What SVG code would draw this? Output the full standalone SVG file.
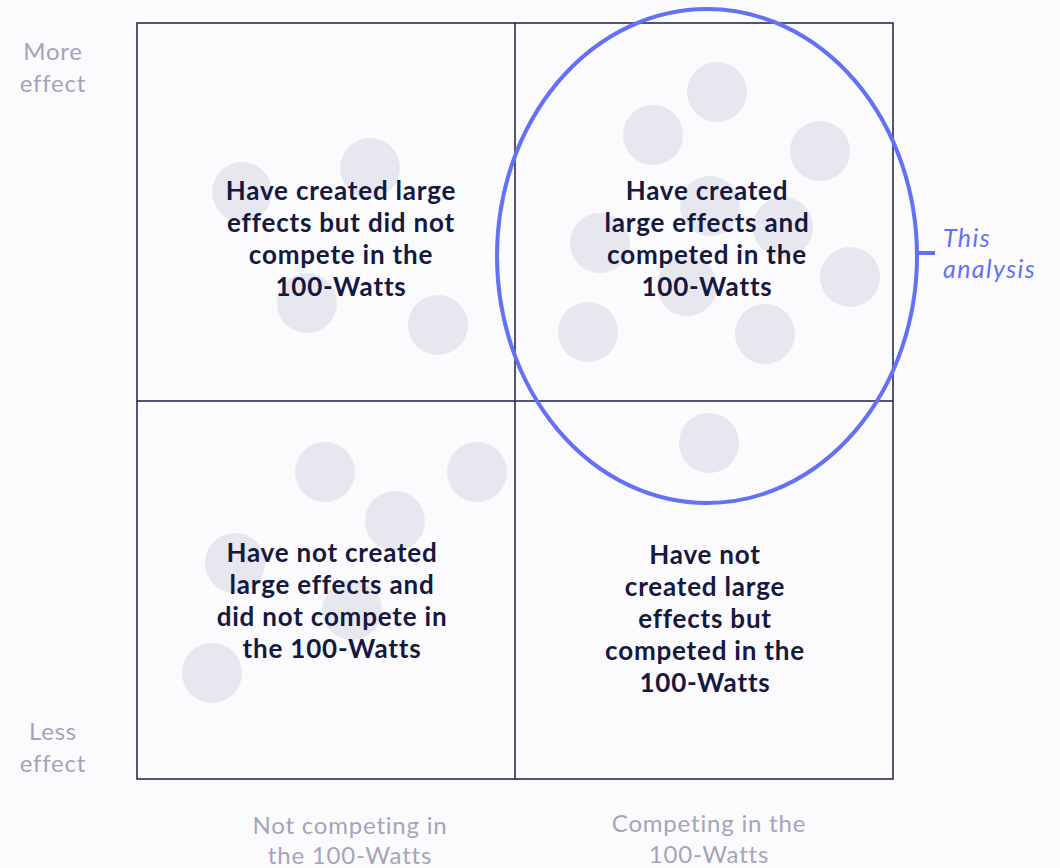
<svg xmlns="http://www.w3.org/2000/svg" width="1060" height="868" viewBox="0 0 1060 868">
  <style>
    .dot { fill: #e7e8ef; }
    .grid { fill: none; stroke: #1b1e48; stroke-width: 1.5; }
    .label { font-family: Lato, "Liberation Sans", sans-serif; font-weight: 700; font-size: 26px; letter-spacing: 0.8px; fill: #15183f; text-anchor: middle; }
    .axis { font-family: Lato, "Liberation Sans", sans-serif; font-weight: 400; font-size: 24px; letter-spacing: 0.8px; fill: #a4a5ba; text-anchor: middle; }
    .note { font-family: Lato, "Liberation Sans", sans-serif; font-style: italic; font-weight: 400; font-size: 25px; letter-spacing: 1.4px; fill: #6470f5; }
    .focus { fill: none; stroke: #6470f5; stroke-width: 4; }
  </style>
  <rect width="1060" height="868" fill="#fbfbfd"/>

  <!-- background dots -->
  <g id="dots">
    <circle class="dot" cx="242" cy="192" r="30"/>
    <circle class="dot" cx="370" cy="168" r="30"/>
    <circle class="dot" cx="307" cy="303" r="30"/>
    <circle class="dot" cx="438" cy="325" r="30"/>

    <circle class="dot" cx="717" cy="92" r="30"/>
    <circle class="dot" cx="653" cy="135" r="30"/>
    <circle class="dot" cx="820" cy="151" r="30"/>
    <circle class="dot" cx="710" cy="206" r="30"/>
    <circle class="dot" cx="783" cy="227" r="30"/>
    <circle class="dot" cx="600" cy="243" r="30"/>
    <circle class="dot" cx="687" cy="286" r="30"/>
    <circle class="dot" cx="850" cy="277" r="30"/>
    <circle class="dot" cx="588" cy="332" r="30"/>
    <circle class="dot" cx="765" cy="334" r="30"/>

    <circle class="dot" cx="709" cy="443" r="30"/>

    <circle class="dot" cx="325" cy="472" r="30"/>
    <circle class="dot" cx="477" cy="472" r="30"/>
    <circle class="dot" cx="395" cy="521" r="30"/>
    <circle class="dot" cx="235" cy="563" r="30"/>
    <circle class="dot" cx="352" cy="610" r="30"/>
    <circle class="dot" cx="212" cy="673" r="30"/>
  </g>

  <!-- quadrant grid -->
  <g id="grid">
    <rect class="grid" x="137" y="23" width="756" height="756"/>
    <line class="grid" x1="515" y1="23" x2="515" y2="779"/>
    <line class="grid" x1="137" y1="401" x2="893" y2="401"/>
  </g>

  <g id="q-top-left">
    <text class="label" x="341" y="200">Have created large</text>
    <text class="label" x="341" y="232">effects but did not</text>
    <text class="label" x="341" y="264">compete in the</text>
    <text class="label" x="341" y="296">100-Watts</text>
  </g>

  <g id="q-top-right">
    <text class="label" x="707" y="200">Have created</text>
    <text class="label" x="707" y="232">large effects and</text>
    <text class="label" x="707" y="264">competed in the</text>
    <text class="label" x="707" y="296">100-Watts</text>
  </g>

  <g id="q-bottom-left">
    <text class="label" x="332" y="562">Have not created</text>
    <text class="label" x="332" y="594">large effects and</text>
    <text class="label" x="332" y="626">did not compete in</text>
    <text class="label" x="332" y="658">the 100-Watts</text>
  </g>

  <g id="q-bottom-right">
    <text class="label" x="705" y="564">Have not</text>
    <text class="label" x="705" y="596">created large</text>
    <text class="label" x="705" y="628">effects but</text>
    <text class="label" x="705" y="660">competed in the</text>
    <text class="label" x="705" y="692">100-Watts</text>
  </g>

  <!-- axis labels -->
  <g id="axis-y">
    <text class="axis" x="53" y="60">More</text>
    <text class="axis" x="53" y="92">effect</text>
    <text class="axis" x="53" y="740">Less</text>
    <text class="axis" x="53" y="772">effect</text>
  </g>
  <g id="axis-x">
    <text class="axis" x="350" y="834">Not competing in</text>
    <text class="axis" x="350" y="864">the 100-Watts</text>
    <text class="axis" x="709" y="832">Competing in the</text>
    <text class="axis" x="709" y="863">100-Watts</text>
  </g>

  <!-- highlight of the analysed quadrant -->
  <g id="highlight">
    <ellipse class="focus" cx="707" cy="256" rx="210" ry="247"/>
    <line class="focus" x1="915" y1="253" x2="935" y2="253" stroke-width="3"/>
    <text class="note" x="943" y="247">This</text>
    <text class="note" x="943" y="278">analysis</text>
  </g>
</svg>
